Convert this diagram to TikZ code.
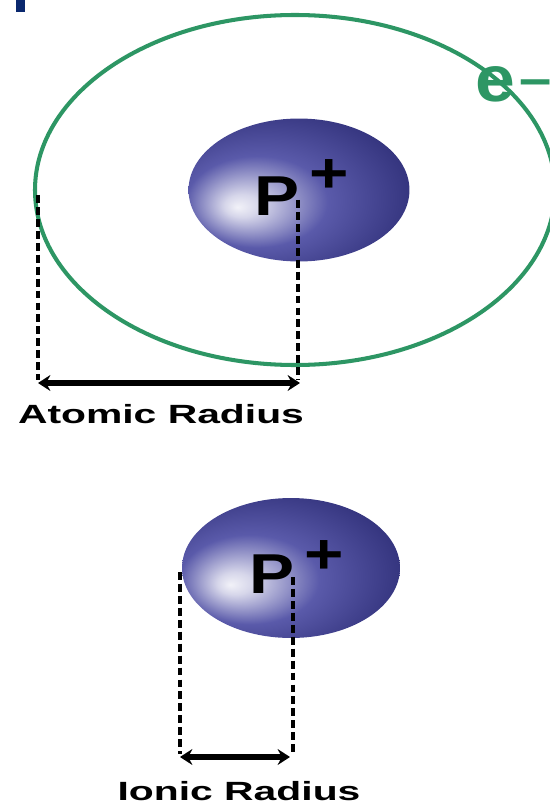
\documentclass[tikz,border=0pt]{standalone}
\usepackage{fontspec}
\setmainfont{Liberation Sans}
\usetikzlibrary{shapes.geometric,arrows.meta}
\definecolor{orbita}{RGB}{45,150,100}
\definecolor{barra}{RGB}{10,40,110}
\definecolor{nucmid}{RGB}{90,90,170}
\definecolor{nucdark}{RGB}{30,30,100}
\pgfdeclareradialshading{sombranucleo}{\pgfpoint{-14bp}{-6bp}}{color(0bp)=(white!92!nucmid); color(4bp)=(white!75!nucmid); color(16bp)=(nucmid); color(40bp)=(nucdark); color(50bp)=(nucdark)}
\begin{document}
\begin{tikzpicture}[x=0.02cm, y=-0.02cm,
    nucleo/.style={ellipse, minimum width=4.42cm, minimum height=2.86cm, inner sep=0pt, shading=sombranucleo},
    letra/.style={font=\fontsize{32}{32}\selectfont\bfseries, xscale=1.2, inner sep=0pt},
    discont/.style={line width=2.4pt, dash pattern=on 4.5pt off 2.3pt},
    flecha/.style={line width=3.2pt, {Stealth[length=7pt,width=9pt]}-{Stealth[length=7pt,width=9pt]}},
    rotulo/.style={font=\fontsize{15}{15}\selectfont\bfseries, xscale=1.55, inner sep=0pt}]
    \useasboundingbox (0,0) rectangle (550,804);
    \fill[barra] (16,0) rectangle (25,12);

    % Atomo
    \draw[orbita, line width=2.3pt] (295,190) ellipse [x radius=260, y radius=175];
    \node[font=\fontsize{37}{37}\selectfont\bfseries, xscale=1.1, text=orbita, inner sep=0pt, anchor=base] (e) at (495,102) {e};
    \node[font=\fontsize{30}{30}\selectfont\bfseries, xscale=1.1, text=orbita, inner sep=0pt, anchor=base west] (menos) at (519,97) {–};
    \node[nucleo] (n1) at (299,190) {};
    \node[letra, anchor=base] (p1) at (277,215) {P};
    \node[letra] (m1) at (329,176) {+};
    \coordinate (a1) at (38,195);
    \coordinate (a2) at (38,380);
    \coordinate (b1) at (298,200);
    \coordinate (b2) at (298,380);
    \coordinate (f1) at (38,383);
    \coordinate (f2) at (300,383);
    \draw[discont] (a1) -- (a2);
    \draw[discont] (b1) -- (b2);
    \draw[flecha] (f1) -- (f2);
    \node[rotulo, anchor=base] (r1) at (161,423) {Atomic Radius};

    % Ion
    \node[nucleo, minimum width=4.36cm, minimum height=2.8cm] (n2) at (291,568) {};
    \node[letra, anchor=base] (p2) at (272,593) {P};
    \node[letra] (m2) at (324,557) {+};
    \coordinate (c1) at (180,572);
    \coordinate (c2) at (180,754);
    \coordinate (d1) at (293,577);
    \coordinate (d2) at (293,754);
    \coordinate (g1) at (180,757);
    \coordinate (g2) at (290,757);
    \draw[discont] (c1) -- (c2);
    \draw[discont] (d1) -- (d2);
    \draw[flecha] (g1) -- (g2);
    \node[rotulo, anchor=base] (r2) at (239,800) {Ionic Radius};
\end{tikzpicture}
\end{document}
